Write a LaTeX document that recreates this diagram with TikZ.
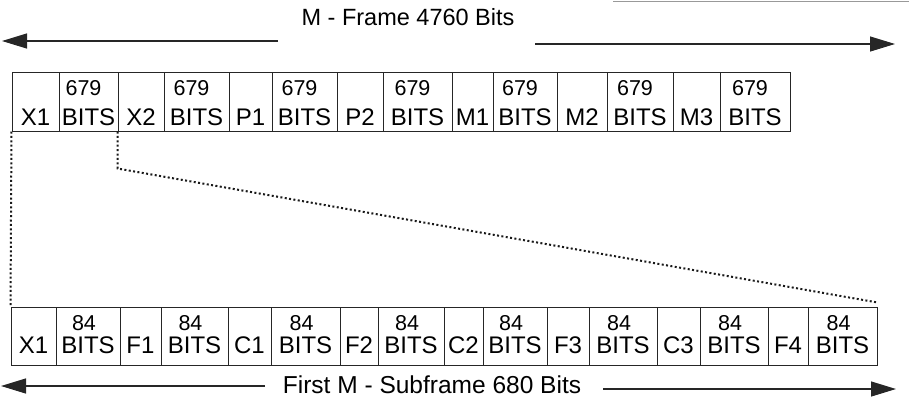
\documentclass[tikz,border=0pt]{standalone}
\usepackage{fontspec}
\setmainfont{Liberation Sans}
\usetikzlibrary{arrows.meta}
\begin{document}
\begin{tikzpicture}[x=1pt,y=-1pt,
  box/.style={draw=black!85, line width=1pt, rectangle, inner sep=0pt, minimum height=59pt},
  sbox/.style={draw=black!85, line width=1pt, rectangle, inner sep=0pt, minimum height=58pt},
  lbl/.style={inner sep=0pt, anchor=base, font=\fontsize{24}{24}\selectfont},
  num/.style={inner sep=0pt, anchor=base, font=\fontsize{21.5}{22}\selectfont},
  ttl/.style={inner sep=0pt, anchor=base, font=\fontsize{23.5}{24}\selectfont},
  ttlb/.style={inner sep=0pt, anchor=base, font=\fontsize{24.5}{25}\selectfont},
  dotline/.style={draw=black!90, line width=2pt, dash pattern=on 2pt off 2.4pt},
  arr/.style={draw=black!85, line width=1.2pt, -{Triangle[length=25pt,width=15pt]}},
  artifact/.style={draw=black!40, line width=1pt}
]
\useasboundingbox (0,0) rectangle (909,405);

% top row (M-frame)
\foreach \xa/\xb/\n/\k in {12/59/t1/X1, 118/164/t3/X2, 229/272/t5/P1, 337/383/t7/P2, 452/493/t9/M1, 557/607/t11/M2, 673/720/t13/M3} {
  \node[box, minimum width={\xb-\xa}] (\n) at ({(\xa+\xb)/2},101.5) {};
  \node[lbl] (\n-l) at ({(\xa+\xb)/2},125) {\k};
}
\foreach \xa/\xb/\n in {59/118/t2, 164/229/t4, 272/337/t6, 383/452/t8, 493/557/t10, 607/673/t12, 720/790/t14} {
  \node[box, minimum width={\xb-\xa}] (\n) at ({(\xa+\xb)/2},101.5) {};
  \node[num] (\n-n) at ({(\xa+\xb)/2-5},95) {679};
  \node[lbl] (\n-b) at ({(\xa+\xb)/2},125) {BITS};
}

% bottom row (subframe)
\foreach \xa/\xb/\n/\k in {11/56/b1/X1, 120/161/b3/F1, 228/271/b5/C1, 340/378/b7/F2, 444/483/b9/C2, 547/589/b11/F3, 657/700/b13/C3, 768/808/b15/F4} {
  \node[sbox, minimum width={\xb-\xa}] (\n) at ({(\xa+\xb)/2},336) {};
  \node[lbl] (\n-l) at ({(\xa+\xb)/2},353) {\k};
}
\foreach \xa/\xb/\n in {56/120/b2, 161/228/b4, 271/340/b6, 378/444/b8, 483/547/b10, 589/657/b12, 700/768/b14, 808/877/b16} {
  \node[sbox, minimum width={\xb-\xa}] (\n) at ({(\xa+\xb)/2},336) {};
  \node[num] (\n-n) at ({(\xa+\xb)/2-4},330) {84};
  \node[lbl] (\n-b) at ({(\xa+\xb)/2},353) {BITS};
}

% dotted expansion lines
\coordinate (bend) at ([yshift=-37pt]t3.south west);
\coordinate (dend) at ([yshift=4pt]b16.north east);
\draw[dotline] (t1.south west) -- (b1.north west);
\draw[dotline] (t3.south west) -- (bend) -- (dend);

% top title and arrows
\node[ttl] (title) at (408,25) {M - Frame 4760 Bits};
\coordinate (a1s) at (278,41);
\coordinate (a1e) at (2,41);
\coordinate (a2s) at (535,44);
\coordinate (a2e) at (895,44);
\draw[arr] (a1s) -- (a1e);
\draw[arr] (a2s) -- (a2e);

% bottom title and arrows
\node[ttlb] (sub) at (432,393) {First M - Subframe 680 Bits};
\coordinate (b1s) at (265,386);
\coordinate (b1e) at (1,386);
\coordinate (b2s) at (603,389);
\coordinate (b2e) at (896,389);
\draw[arr] (b1s) -- (b1e);
\draw[arr] (b2s) -- (b2e);

% scan edge line at top right
\coordinate (e1) at (613,1);
\coordinate (e2) at (909,1);
\draw[artifact] (e1) -- (e2);
\end{tikzpicture}
\end{document}
